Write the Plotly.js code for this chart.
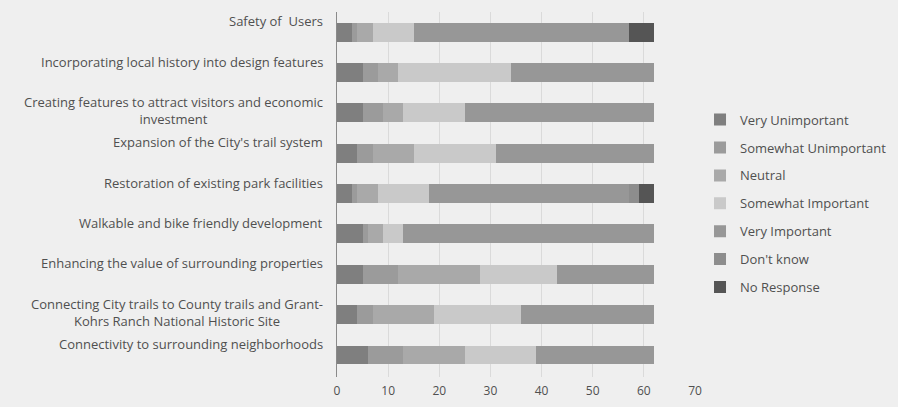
<!DOCTYPE html>
<html>
<head>
<meta charset="utf-8">
<script src="https://cdn.plot.ly/plotly-3.0.1.min.js"></script>
<style>
html,body{margin:0;padding:0;background:#efefef;}
#chart{width:898px;height:407px;}
</style>
</head>
<body>
<div id="chart"></div>
<script>
const categories = [
  "Safety of  Users",
  "Incorporating local history into design features",
  "Creating features to attract visitors and economic<br>investment",
  "Expansion of the City's trail system",
  "Restoration of existing park facilities",
  "Walkable and bike friendly development",
  "Enhancing the value of surrounding properties",
  "Connecting City trails to County trails and Grant-<br>Kohrs Ranch National Historic Site",
  "Connectivity to surrounding neighborhoods"
];
const seriesNames = ["Very Unimportant","Somewhat Unimportant","Neutral","Somewhat Important","Very Important","Don't know","No Response"];
const veryUnimportant     = [3, 5, 5, 4, 3, 5, 5, 4, 6];
const somewhatUnimportant = [1, 3, 4, 3, 1, 1, 7, 3, 7];
const neutral             = [3, 4, 4, 8, 4, 3, 16, 12, 12];
const somewhatImportant   = [8, 22, 12, 16, 10, 4, 15, 17, 14];
const veryImportant       = [42, 28, 37, 31, 39, 49, 19, 26, 23];
const dontKnow            = [0, 0, 0, 0, 2, 0, 0, 0, 0];
const noResponse          = [5, 0, 0, 0, 3, 0, 0, 0, 0];
const xTicks = [0, 10, 20, 30, 40, 50, 60, 70];

const seriesValues = [veryUnimportant, somewhatUnimportant, neutral, somewhatImportant, veryImportant, dontKnow, noResponse];
const colors = ["#7f7f7f", "#9b9b9b", "#a9a9a9", "#c9c9c9", "#979797", "#8d8d8d", "#555555"];

const traces = seriesNames.map((name, i) => ({
  type: "bar",
  orientation: "h",
  name: name,
  y: categories,
  x: seriesValues[i],
  marker: {color: colors[i], line: {width: 0}},
  legendgroup: "g" + i,
  hoverinfo: "x+name"
}));

const textFont = {family: "Open Sans, sans-serif", size: 13, color: "#505050"};

const annotations = categories.map(c => ({
  xref: "paper", yref: "y",
  x: 0, y: c,
  xanchor: "right", yanchor: "top",
  xshift: -12, yshift: 22,
  align: "center",
  showarrow: false,
  text: c,
  font: textFont
}));

const layout = {
  width: 898, height: 407,
  paper_bgcolor: "#efefef",
  plot_bgcolor: "#efefef",
  barmode: "stack",
  bargap: 0.53,
  margin: {l: 337, r: 203, t: 12, b: 30, autoexpand: false},
  showlegend: true,
  legend: {
    x: 1.014, xanchor: "left", y: 0.475, yanchor: "middle",
    font: textFont,
    bgcolor: "rgba(0,0,0,0)",
    itemwidth: 30,
    tracegroupgap: 8,
    traceorder: "grouped"
  },
  xaxis: {
    range: [0, 70],
    tickvals: xTicks,
    ticktext: xTicks.map(String),
    showgrid: true,
    gridcolor: "#dadada",
    gridwidth: 1,
    zeroline: false,
    showline: false,
    ticks: "",
    ticklabelstandoff: 5,
    tickfont: {family: "Open Sans, sans-serif", size: 12, color: "#505050"},
    fixedrange: true
  },
  yaxis: {
    type: "category",
    autorange: "reversed",
    showticklabels: false,
    showgrid: false,
    zeroline: false,
    showline: true,
    linecolor: "#8a8a8a",
    linewidth: 1,
    ticks: "",
    fixedrange: true
  },
  annotations: annotations
};

Plotly.newPlot("chart", traces, layout, {displayModeBar: false, staticPlot: true});
</script>
</body>
</html>
